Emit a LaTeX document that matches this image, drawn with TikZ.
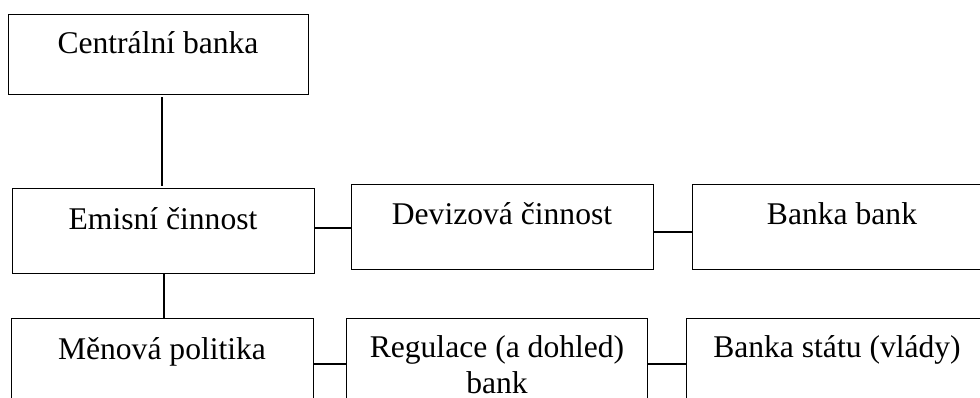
\documentclass[tikz,border=0pt]{standalone}
\usepackage{fontspec}
\setmainfont{Liberation Serif}
\tikzset{
  box/.style={draw=black, line width=1.3pt, fill=white, inner sep=0pt, anchor=north west, rectangle},
  txt/.style={inner sep=0pt, font=\fontsize{31.6}{36}\selectfont, text=black},
  conn/.style={draw=black, line width=1.8pt}
}
\begin{document}
\begin{tikzpicture}[x=1pt, y=-1pt]
\useasboundingbox (0,0) rectangle (980,398);
\clip (0,0) rectangle (980,398);
\fill[white] (0,0) rectangle (980,398);
% boxes
\node[box, minimum width=300pt, minimum height=80pt] (cb) at (8,14) {};
\node[box, minimum width=302pt, minimum height=85pt] (em) at (12,188) {};
\node[box, minimum width=302pt, minimum height=85pt] (dev) at (351,184) {};
\node[box, minimum width=300pt, minimum height=85pt] (bb) at (692,184) {};
\node[box, minimum width=302pt, minimum height=110pt] (mp) at (11,318) {};
\node[box, minimum width=301pt, minimum height=110pt] (reg) at (346,318) {};
\node[box, minimum width=302pt, minimum height=110pt] (bs) at (686,318) {};
% texts
\node[txt, anchor=base] (cbt) at (158,54) {Centrální banka};
\node[txt, anchor=base] (emt) at (163,230) {Emisní činnost};
\node[txt, anchor=base] (devt) at (502,225) {Devizová činnost};
\node[txt, anchor=base] (bbt) at (842,225) {Banka bank};
\node[txt, anchor=base] (mpt) at (162,359) {Měnová politika};
\node[txt, anchor=base, align=center] (regt) at (497,393) {Regulace (a dohled)\\bank};
\node[txt, anchor=base] (bst) at (837,357) {Banka státu (vlády)};
% connectors
\draw[conn] ([yshift=-2pt]cb.south -| 162,0) -- ([yshift=2pt]em.north -| 162,0);
\draw[conn] (em.south -| 164,0) -- (mp.north -| 164,0);
\draw[conn] (em.east |- 0,228) -- (dev.west |- 0,228);
\draw[conn] (dev.east |- 0,232) -- (bb.west |- 0,232);
\draw[conn] (mp.east |- 0,364) -- (reg.west |- 0,364);
\draw[conn] (reg.east |- 0,364) -- (bs.west |- 0,364);
\end{tikzpicture}
\end{document}
